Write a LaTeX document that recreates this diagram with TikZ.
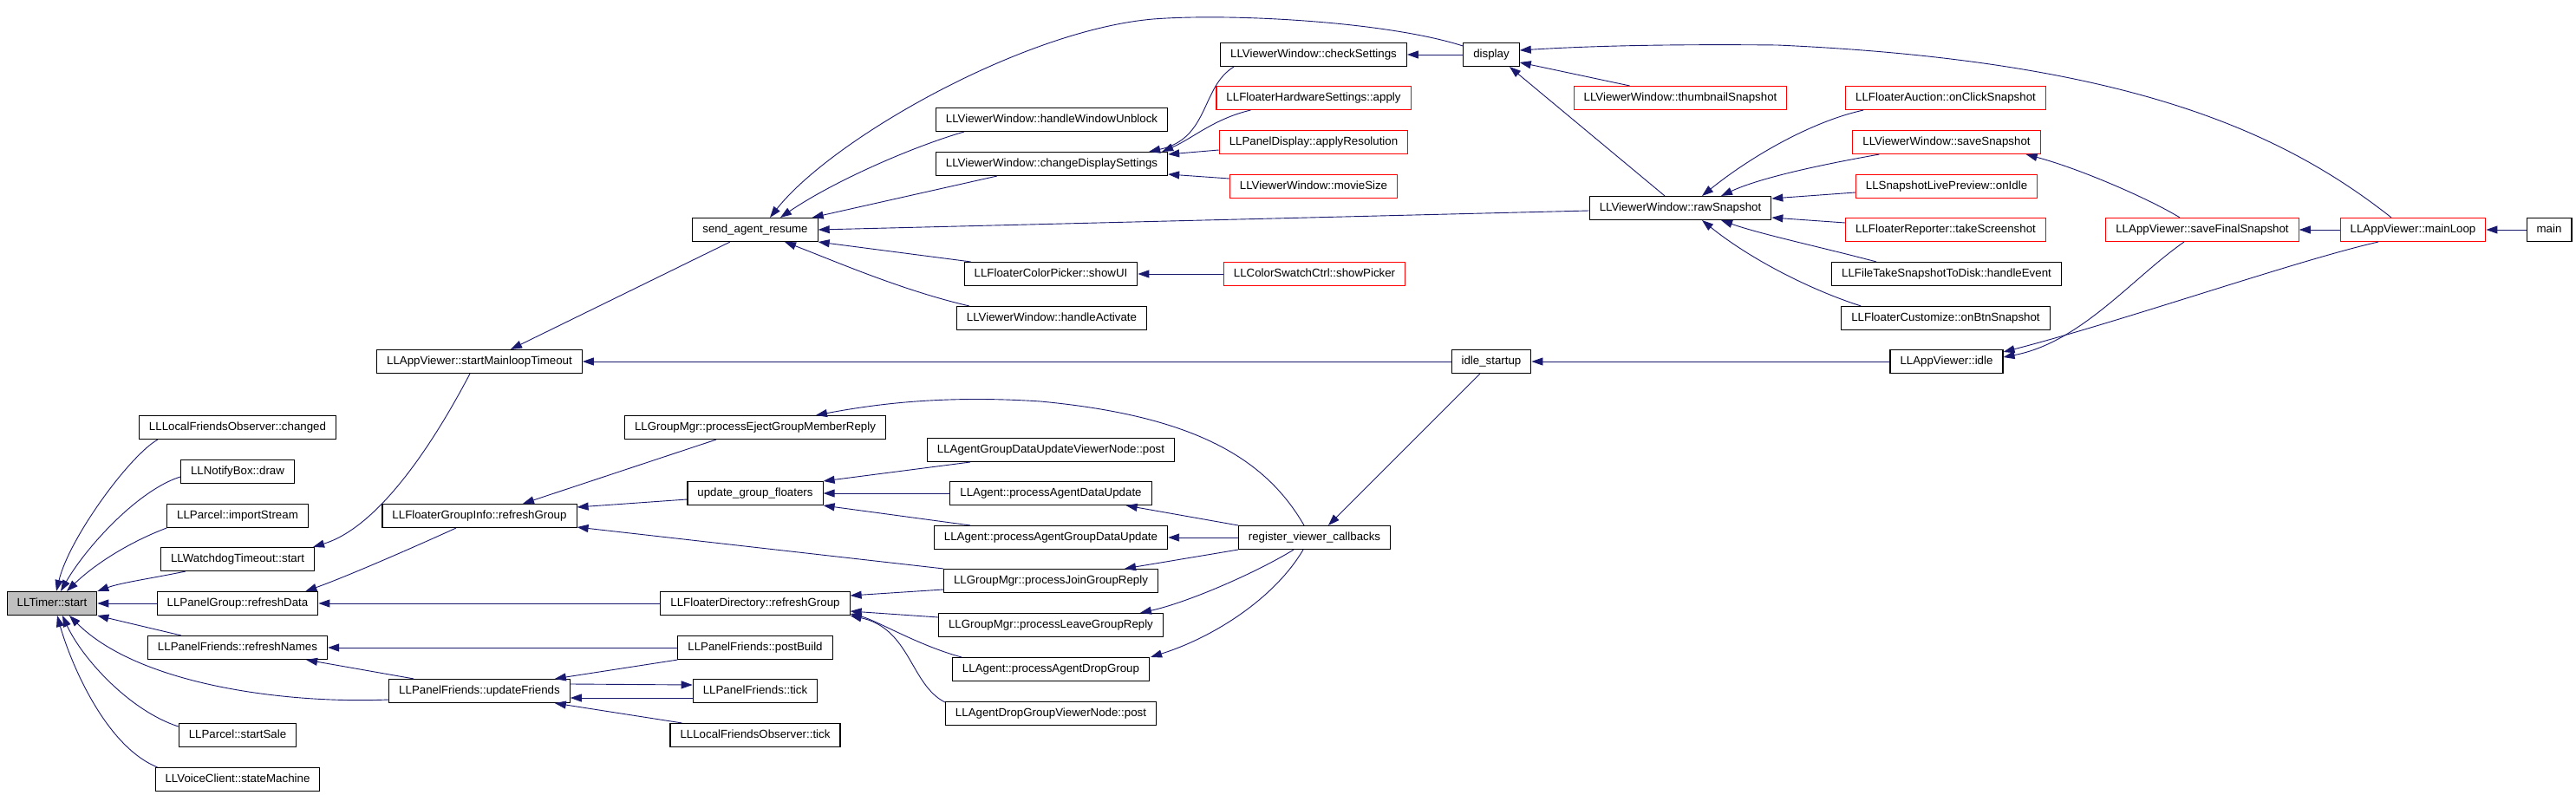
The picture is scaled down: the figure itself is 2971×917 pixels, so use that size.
\documentclass[tikz,border=0pt]{standalone}
\usepackage{fontspec}
\setmainfont{Liberation Sans}
\usetikzlibrary{arrows.meta}
\definecolor{navyc}{HTML}{191970}
\definecolor{grayfill}{HTML}{BFBFBF}
\begin{document}
\begin{tikzpicture}[x=1pt,y=-1pt,
  box/.style={draw=black, line width=1.1pt, fill=white, inner xsep=11.5pt, inner ysep=0pt,
    minimum height=27pt, font=\fontsize{13.3}{15}\selectfont, text height=9.8pt, text depth=2.8pt},
  redbox/.style={box, draw=red},
  curbox/.style={box, fill=grayfill},
  e/.style={draw=navyc, line width=0.9pt, -{Triangle[length=13pt,width=9pt]}}]
\useasboundingbox[fill=white] (0,0) rectangle (2971,917);
% nodes
\node[curbox] (timer) at (60,696) {LLTimer::start};
\node[box] (lfochanged) at (274,493) {LLLocalFriendsObserver::changed};
\node[box] (notify) at (274,544) {LLNotifyBox::draw};
\node[box] (importstream) at (274,595) {LLParcel::importStream};
\node[box] (watchdog) at (274,645) {LLWatchdogTimeout::start};
\node[box] (refreshdata) at (274,696) {LLPanelGroup::refreshData};
\node[box] (refreshnames) at (274,747) {LLPanelFriends::refreshNames};
\node[box] (startsale) at (274,848) {LLParcel::startSale};
\node[box] (voice) at (274,899) {LLVoiceClient::stateMachine};
\node[box] (mainloopto) at (553,417) {LLAppViewer::startMainloopTimeout};
\node[box] (fgirefresh) at (553,595) {LLFloaterGroupInfo::refreshGroup};
\node[box] (updatefriends) at (553,797) {LLPanelFriends::updateFriends};
\node[box] (sendresume) at (871,265) {send\_agent\_resume};
\node[box] (eject) at (871,493) {LLGroupMgr::processEjectGroupMemberReply};
\node[box] (ugf) at (871,569) {update\_group\_floaters};
\node[box] (fdrefresh) at (871,696) {LLFloaterDirectory::refreshGroup};
\node[box] (postbuild) at (871,747) {LLPanelFriends::postBuild};
\node[box] (pftick) at (871,797) {LLPanelFriends::tick};
\node[box] (lfotick) at (871,848) {LLLocalFriendsObserver::tick};
\node[box] (unblock) at (1213,138) {LLViewerWindow::handleWindowUnblock};
\node[box] (changeds) at (1213,189) {LLViewerWindow::changeDisplaySettings};
\node[box] (colorpicker) at (1212,316) {LLFloaterColorPicker::showUI};
\node[box] (activate) at (1213,367) {LLViewerWindow::handleActivate};
\node[box] (agdupost) at (1212,519) {LLAgentGroupDataUpdateViewerNode::post};
\node[box] (agentdata) at (1212,569) {LLAgent::processAgentDataUpdate};
\node[box] (agentgroupdata) at (1212,620) {LLAgent::processAgentGroupDataUpdate};
\node[box] (joingroup) at (1212,670) {LLGroupMgr::processJoinGroupReply};
\node[box] (leavegroup) at (1212,721) {LLGroupMgr::processLeaveGroupReply};
\node[box] (dropgroup) at (1212,772) {LLAgent::processAgentDropGroup};
\node[box] (dropgrouppost) at (1212,823) {LLAgentDropGroupViewerNode::post};
\node[box] (checksettings) at (1515,63) {LLViewerWindow::checkSettings};
\node[redbox] (hwapply) at (1515,113) {LLFloaterHardwareSettings::apply};
\node[redbox] (applyres) at (1515,164) {LLPanelDisplay::applyResolution};
\node[redbox] (moviesize) at (1515,215) {LLViewerWindow::movieSize};
\node[redbox] (showpicker) at (1516,316) {LLColorSwatchCtrl::showPicker};
\node[box] (rvc) at (1516,620) {register\_viewer\_callbacks};
\node[box] (display) at (1720,63) {display};
\node[box] (idlestartup) at (1720,417) {idle\_startup};
\node[redbox] (thumbnail) at (1938,113) {LLViewerWindow::thumbnailSnapshot};
\node[box] (rawsnap) at (1938,240) {LLViewerWindow::rawSnapshot};
\node[redbox] (auction) at (2244,113) {LLFloaterAuction::onClickSnapshot};
\node[redbox] (savesnap) at (2245,164) {LLViewerWindow::saveSnapshot};
\node[redbox] (livepreview) at (2245,215) {LLSnapshotLivePreview::onIdle};
\node[redbox] (reporter) at (2244,265) {LLFloaterReporter::takeScreenshot};
\node[box] (filetake) at (2245,316) {LLFileTakeSnapshotToDisk::handleEvent};
\node[box] (customize) at (2244,367) {LLFloaterCustomize::onBtnSnapshot};
\node[box] (appidle) at (2245,417) {LLAppViewer::idle};
\node[redbox] (savefinal) at (2540,265) {LLAppViewer::saveFinalSnapshot};
\node[redbox] (mainloop) at (2783,265) {LLAppViewer::mainLoop};
\node[box] (main) at (2940,265) {main};
% edges into LLTimer::start
\draw[e] ([xshift=22pt]lfochanged.south west) .. controls (150,525) and (80,620) .. ([xshift=5pt]timer.north);
\draw[e] ([yshift=-6pt]notify.west) .. controls (160,565) and (100,630) .. ([xshift=10pt]timer.north);
\draw[e] (importstream.south west) .. controls (150,625) and (110,650) .. ([xshift=17pt]timer.north);
\draw[e] ([xshift=29pt]watchdog.south west) .. controls (170,668) and (140,672) .. (timer.north east);
\draw[e] (refreshdata.west) -- (timer.east);
\draw[e] ([xshift=39pt]refreshnames.north west) -- (timer.south east);
\draw[e] ([yshift=-10pt]updatefriends.west) .. controls (330,812) and (160,790) .. ([xshift=20pt]timer.south);
\draw[e] ([yshift=10pt]startsale.west) .. controls (150,820) and (95,760) .. ([xshift=12pt]timer.south);
\draw[e] ([xshift=3pt]voice.north west) .. controls (120,860) and (80,760) .. ([xshift=6pt]timer.south);
% second level
\draw[e] ([xshift=-11pt]mainloopto.south) .. controls (490,530) and (430,610) .. ([xshift=-2pt]watchdog.north east);
\draw[e] ([xshift=-27pt]fgirefresh.south) .. controls (480,630) and (400,665) .. ([xshift=-15pt]refreshdata.north east);
\draw[e] (fdrefresh.west) -- (refreshdata.east);
\draw[e] (postbuild.west) -- (refreshnames.east);
\draw[e] ([xshift=29pt]updatefriends.north west) -- ([xshift=-25pt]refreshnames.south east);
\draw[e] (postbuild.south west) -- ([xshift=-18pt]updatefriends.north east);
\draw[e] ([yshift=8pt]updatefriends.east) -- ([yshift=7pt]pftick.west);
\draw[e] ([yshift=-8pt]pftick.west) -- ([yshift=-8pt]updatefriends.east);
\draw[e] ([xshift=14pt]lfotick.north west) -- ([xshift=-18pt]updatefriends.south east);
\draw[e] ([xshift=-29pt]sendresume.south) -- ([xshift=36pt]mainloopto.north);
\draw[e] (idlestartup.west) -- (mainloopto.east);
\draw[e] ([xshift=-45pt]eject.south) -- ([xshift=50pt]fgirefresh.north);
\draw[e] ([yshift=-7pt]ugf.west) -- ([yshift=10pt]fgirefresh.east);
\draw[e] (joingroup.north west) -- ([yshift=1pt]fgirefresh.south east);
% into send_agent_resume
\draw[e] ([yshift=10pt]display.west) .. controls (1600,25) and (1420,15) .. (1330,22) .. controls (1180,35) and (960,160) .. ([xshift=17pt]sendresume.north);
\draw[e] ([xshift=33pt]unblock.south west) .. controls (1050,170) and (960,210) .. ([xshift=29pt]sendresume.north);
\draw[e] ([xshift=71pt]changeds.south west) -- ([xshift=-7pt]sendresume.north east);
\draw[e] ([yshift=-3pt]rawsnap.west) -- (sendresume.east);
\draw[e] ([xshift=8pt]colorpicker.north west) -- (sendresume.south east);
\draw[e] ([xshift=15pt]activate.north west) .. controls (1040,335) and (960,300) .. ([xshift=34pt]sendresume.south);
% into changeDisplaySettings
\draw[e] ([xshift=16pt]checksettings.south west) .. controls (1385,100) and (1395,160) .. ([xshift=-22pt]changeds.north east);
\draw[e] ([xshift=40pt]hwapply.south west) .. controls (1400,137) and (1375,160) .. ([xshift=-7pt]changeds.north east);
\draw[e] ([yshift=-9pt]applyres.west) -- ([yshift=11pt]changeds.east);
\draw[e] ([yshift=9pt]moviesize.west) -- ([yshift=-12pt]changeds.east);
% display and snapshots
\draw[e] (display.west) -- (checksettings.east);
\draw[e] ([xshift=-25pt]mainloop.north) .. controls (2630,150) and (2450,70) .. (2050,52) .. controls (1950,51) and (1850,52) .. ([yshift=5pt]display.east);
\draw[e] ([xshift=65pt]thumbnail.north west) -- ([yshift=-9pt]display.east);
\draw[e] ([xshift=-18pt]rawsnap.north) -- ([xshift=21pt]display.south);
\draw[e] ([xshift=21pt]auction.south west) .. controls (2090,140) and (2020,180) .. ([xshift=25pt]rawsnap.north);
\draw[e] ([xshift=31pt]savesnap.south west) .. controls (2100,190) and (2030,205) .. ([xshift=47pt]rawsnap.north);
\draw[e] ([yshift=-7pt]livepreview.west) -- ([yshift=11pt]rawsnap.east);
\draw[e] ([yshift=8pt]reporter.west) -- ([yshift=-11pt]rawsnap.east);
\draw[e] ([xshift=52pt]filetake.north west) .. controls (2100,285) and (2030,270) .. ([xshift=47pt]rawsnap.south);
\draw[e] ([xshift=23pt]customize.north west) .. controls (2090,335) and (2020,300) .. ([xshift=25pt]rawsnap.south);
\draw[e] (showpicker.west) -- (colorpicker.east);
% group floaters
\draw[e] ([xshift=50pt]agdupost.south west) -- (ugf.north east);
\draw[e] (agentdata.west) -- (ugf.east);
\draw[e] ([xshift=42pt]agentgroupdata.north west) -- (ugf.south east);
\draw[e] ([yshift=-10pt]joingroup.west) -- ([yshift=9pt]fdrefresh.east);
\draw[e] ([yshift=9pt]leavegroup.west) -- ([yshift=-9pt]fdrefresh.east);
\draw[e] ([xshift=11pt]dropgroup.north west) .. controls (1060,745) and (1010,715) .. ([yshift=-12pt]fdrefresh.east);
\draw[e] ([yshift=13pt]dropgrouppost.west) .. controls (1050,790) and (1050,725) .. (fdrefresh.south east);
% register_viewer_callbacks
\draw[e] ([xshift=-12pt]rvc.north) .. controls (1460,530) and (1380,480) .. (1200,463) .. controls (1080,455) and (1000,468) .. ([xshift=70pt]eject.north);
\draw[e] (rvc.north west) -- ([xshift=-30pt]agentdata.south east);
\draw[e] (rvc.west) -- (agentgroupdata.east);
\draw[e] (rvc.south west) -- ([xshift=-39pt]joingroup.north east);
\draw[e] ([xshift=-24pt]rvc.south) .. controls (1450,660) and (1370,695) .. ([xshift=-27pt]leavegroup.north east);
\draw[e] ([xshift=-13pt]rvc.south) .. controls (1470,690) and (1400,735) .. ([xshift=1pt]dropgroup.north east);
\draw[e] ([xshift=-13pt]idlestartup.south) -- ([xshift=16pt]rvc.north);
% app viewer
\draw[e] (appidle.west) -- (idlestartup.east);
\draw[e] ([xshift=-26pt]savefinal.north) .. controls (2480,230) and (2400,195) .. ([xshift=-17pt]savesnap.south east);
\draw[e] ([xshift=-21pt]savefinal.south) .. controls (2460,320) and (2400,395) .. ([yshift=5pt]appidle.east);
\draw[e] ([xshift=-40pt]mainloop.south) .. controls (2650,300) and (2450,370) .. ([yshift=11pt]appidle.east);
\draw[e] (mainloop.west) -- (savefinal.east);
\draw[e] (main.west) -- (mainloop.east);
\end{tikzpicture}
\end{document}
